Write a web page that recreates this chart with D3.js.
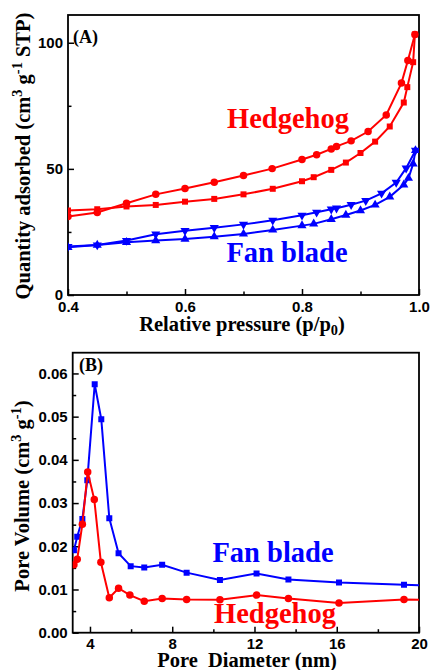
<!DOCTYPE html>
<html><head><meta charset="utf-8">
<script src="https://cdn.jsdelivr.net/npm/d3@7"></script>
<style>
body{margin:0;background:#fff;}
svg{display:block;}
.tick text{font-family:"Liberation Sans",Arial,sans-serif;font-weight:bold;font-size:15px;fill:#000;}
.ttl{font-family:"Liberation Serif","Times New Roman",serif;font-weight:bold;}
</style>
</head><body>
<svg id="c" width="430" height="670"></svg>
<script>
// ---------- Panel A data: N2 isotherms ----------
const hhDesX = [0.4,0.45,0.5,0.55,0.6,0.65,0.7,0.749,0.8,0.825,0.85,0.859,0.884,0.913,0.944,0.970,0.981,0.993];
const hhDesY = [31.1,32.7,36.4,39.9,42.2,44.7,47.4,50.1,53.7,55.6,57.9,58.9,61.1,64.8,71.4,84.0,93.0,103.3];
const hhAdsX = [0.4,0.45,0.5,0.55,0.6,0.65,0.7,0.75,0.8,0.82,0.85,0.875,0.9,0.925,0.95,0.974,0.98,0.99,0.993];
const hhAdsY = [33.5,34.0,35.1,35.7,37.0,38.1,39.9,42.1,45.1,46.7,49.6,52.5,56.3,60.8,66.8,76.3,82.4,92.3,103.3];
const fbDesX = [0.4,0.45,0.5,0.55,0.6,0.65,0.7,0.75,0.8,0.825,0.85,0.859,0.884,0.909,0.936,0.961,0.978,0.994];
const fbDesY = [19.2,19.8,21.6,24.1,25.5,26.7,28.0,29.6,31.6,32.8,34.0,34.4,35.8,37.4,40.3,44.6,50.3,57.3];
const fbAdsX = [0.4,0.45,0.5,0.55,0.6,0.65,0.7,0.75,0.8,0.82,0.85,0.875,0.9,0.925,0.95,0.974,0.982,0.99,0.994];
const fbAdsY = [18.9,19.8,20.9,21.6,22.2,23.1,24.2,25.8,27.5,28.2,30.0,31.7,33.5,35.7,38.9,43.7,46.3,52.0,57.3];
const aXTicks = [0.4,0.6,0.8,1.0];
const aXMinor = [0.5,0.7,0.9];
const aYTicks = [0,50,100];
const aYMinor = [25,75];

// ---------- Panel B data: pore size distribution ----------
const fbPoreX = [3.22,3.38,3.63,3.87,4.23,4.55,4.94,5.39,5.98,6.64,7.51,8.70,10.32,12.10,13.65,16.11,19.27,20.6];
const fbPoreY = [0.0191,0.0222,0.0263,0.0353,0.0575,0.0494,0.0265,0.0184,0.0154,0.0151,0.0157,0.0139,0.0122,0.0137,0.0123,0.0116,0.0111,0.0109];
const hhPoreX = [3.22,3.38,3.63,3.89,4.21,4.53,4.94,5.39,5.94,6.64,7.51,8.70,10.32,12.10,13.65,16.11,19.27,20.6];
const hhPoreY = [0.0157,0.0170,0.0251,0.0372,0.0308,0.0163,0.0081,0.0103,0.0087,0.0073,0.0079,0.0077,0.0076,0.0087,0.0079,0.0069,0.0077,0.0076];
const bXTicks = [4,8,12,16,20];
const bXMinor = [6,10,14,18];
const bYTicks = [0,0.01,0.02,0.03,0.04,0.05,0.06];
const bYMinor = [0.005,0.015,0.025,0.035,0.045,0.055];

const RED = "#ff0000", BLUE = "#0000ff";
const svg = d3.select("#c");

function panel(cfg){
  const g = svg.append("g");
  const x = d3.scaleLinear().domain(cfg.xd).range([cfg.l, cfg.r]);
  const y = d3.scaleLinear().domain(cfg.yd).range([cfg.b, cfg.t]);
  const cid = "clip"+cfg.id;
  svg.append("clipPath").attr("id",cid).append("rect")
    .attr("x",cfg.l).attr("y",cfg.t).attr("width",cfg.r-cfg.l).attr("height",cfg.b-cfg.t);
  g.append("g").attr("transform",`translate(0,${cfg.b})`)
    .call(d3.axisBottom(x).tickValues(cfg.xt).tickSize(-6).tickPadding(6).tickFormat(cfg.xf));
  g.append("g").attr("transform",`translate(0,${cfg.b})`)
    .call(d3.axisBottom(x).tickValues(cfg.xm).tickSize(-3.5).tickFormat(""));
  g.append("g").attr("transform",`translate(${cfg.l},0)`)
    .call(d3.axisLeft(y).tickValues(cfg.yt).tickSize(-6).tickPadding(5).tickFormat(cfg.yf));
  g.append("g").attr("transform",`translate(${cfg.l},0)`)
    .call(d3.axisLeft(y).tickValues(cfg.ym).tickSize(-3.5).tickFormat(""));
  g.selectAll(".domain").remove();
  g.selectAll(".tick line").attr("stroke","#000").attr("stroke-width",1.5);
  g.append("rect").attr("x",cfg.l).attr("y",cfg.t).attr("width",cfg.r-cfg.l).attr("height",cfg.b-cfg.t)
    .attr("fill","none").attr("stroke","#000").attr("stroke-width",1.8);
  const pg = g.append("g").attr("clip-path",`url(#${cid})`);
  cfg.series.forEach(s=>{
    const pts = s.x.map((v,i)=>[v,s.y[i]]);
    pg.append("path").attr("d", d3.line().x(d=>x(d[0])).y(d=>y(d[1]))(pts))
      .attr("fill","none").attr("stroke",s.c).attr("stroke-width",2);
    const sym = d3.symbol().type(s.sym).size(s.size);
    pg.selectAll(null).data(pts).join("path")
      .attr("d",sym)
      .attr("transform",d=>`translate(${x(d[0])},${y(d[1])})${s.rot?" rotate(180)":""}`)
      .attr("fill",s.c);
  });
  return {g,x,y};
}

// Panel A
panel({id:"A", l:68, r:419, t:15, b:295, xd:[0.4,1.0], yd:[0,111],
  xt:aXTicks, xm:aXMinor, yt:aYTicks, ym:aYMinor,
  xf:d3.format(".1f"), yf:d3.format("d"),
  series:[
    {x:hhAdsX,y:hhAdsY,c:RED,sym:d3.symbolSquare,size:36},
    {x:hhDesX,y:hhDesY,c:RED,sym:d3.symbolCircle,size:44},
    {x:fbAdsX,y:fbAdsY,c:BLUE,sym:d3.symbolTriangle,size:36},
    {x:fbDesX,y:fbDesY,c:BLUE,sym:d3.symbolTriangle,size:36,rot:true}
  ]});

// Panel B
panel({id:"B", l:72.7, r:419, t:352.7, b:632.7, xd:[3.16,20], yd:[0,0.0648],
  xt:bXTicks, xm:bXMinor, yt:bYTicks, ym:bYMinor,
  xf:d3.format("d"), yf:d3.format(".2f"),
  series:[
    {x:fbPoreX,y:fbPoreY,c:BLUE,sym:d3.symbolSquare,size:36},
    {x:hhPoreX,y:hhPoreY,c:RED,sym:d3.symbolCircle,size:44}
  ]});

function txt(x,y,s,size,fill,anchor){
  return svg.append("text").attr("class","ttl").attr("x",x).attr("y",y)
    .attr("font-size",size).style("fill",fill||"#000").attr("text-anchor",anchor||"start").text(s);
}
txt(73,43,"(A)",18);
txt(79,371,"(B)",18);
txt(288,128,"Hedgehog",28.5,RED,"middle");
txt(287,262,"Fan blade",28.5,BLUE,"middle");
txt(273,562,"Fan blade",28.5,BLUE,"middle");
txt(275,623,"Hedgehog",28.5,RED,"middle");

function sup(t,s){ t.append("tspan").attr("font-size","70%").attr("dy","-0.55em").text(s); }
function back(t,s){ t.append("tspan").attr("dy","0.385em").text(s); }
let ty = svg.append("text").attr("class","ttl").attr("font-size",20.5).attr("text-anchor","middle")
  .style("fill","#000").attr("transform","translate(30,156) rotate(-90)");
ty.append("tspan").text("Quantity adsorbed (cm");
sup(ty,"3"); back(ty," g"); sup(ty,"-1"); back(ty," STP)");
let tx = svg.append("text").attr("class","ttl").attr("font-size",20.5).attr("text-anchor","middle")
  .style("fill","#000").attr("x",242).attr("y",331);
tx.append("tspan").text("Relative pressure (p/p");
tx.append("tspan").attr("font-size","70%").attr("dy","0.3em").text("0");
tx.append("tspan").attr("dy","-0.21em").text(")");
let tyb = svg.append("text").attr("class","ttl").attr("font-size",20.5).attr("text-anchor","middle")
  .style("fill","#000").attr("transform","translate(29,496) rotate(-90)");
tyb.append("tspan").text("Pore Volume (cm");
sup(tyb,"3"); back(tyb," g"); sup(tyb,"-1"); back(tyb,")");
svg.append("text").attr("class","ttl").attr("font-size",20.5).attr("text-anchor","middle")
  .style("fill","#000").attr("x",247).attr("y",667).style("white-space","pre").text("Pore  Diameter (nm)");
</script>
</body></html>
